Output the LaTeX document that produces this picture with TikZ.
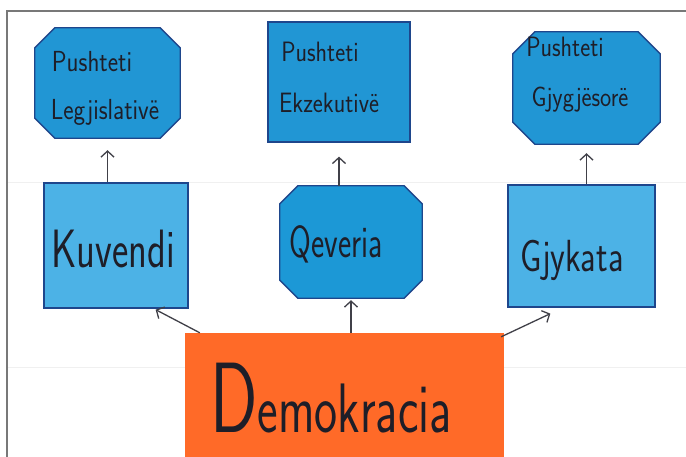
\documentclass[tikz,border=0pt]{standalone}
\usepackage{graphicx}
\usetikzlibrary{arrows.meta,backgrounds,calc}
\definecolor{topblue}{RGB}{33,150,212}
\definecolor{midblue}{RGB}{76,178,230}
\definecolor{qblue}{RGB}{28,152,214}
\definecolor{bdr}{RGB}{30,70,140}
\definecolor{orng}{RGB}{255,106,40}
\definecolor{framegray}{RGB}{120,120,120}
\definecolor{ink}{RGB}{30,30,40}
\definecolor{faint}{RGB}{240,240,240}
\newcommand\hwtext[3]{\scalebox{#1}[1]{\fontsize{#2}{#2}\selectfont #3}}
\begin{document}
\begin{tikzpicture}[x=1pt,y=-1pt,
  rbox/.style={rectangle, draw=bdr, line width=1.3pt, inner sep=0pt},
  obox/.style={rectangle, draw=none, inner sep=0pt},
  octo/.style={draw=bdr, line width=1.3pt},
  lbl/.style={anchor=base, inner sep=0pt, text=ink, font=\sffamily},
  arr/.style={draw=ink!85, line width=1.3pt, -{Straight Barb[length=6pt,width=13pt]}}]
\useasboundingbox (0,0) rectangle (686,457);

% frame
\draw[framegray, line width=2pt] (7,470) -- (7,11) -- (700,11);

% box nodes
\node[obox, minimum width=145pt, minimum height=110pt] (lg) at (107.5,83) {};
\node[rbox, fill=topblue, minimum width=142pt, minimum height=120pt] (ex) at (339,82) {};
\node[obox, minimum width=147pt, minimum height=112pt] (gy) at (586.5,88) {};
\node[rbox, fill=midblue, minimum width=144pt, minimum height=125pt] (kuv) at (116,245.5) {};
\node[obox, minimum width=142pt, minimum height=112pt] (qev) at (351,242) {};
\node[rbox, fill=midblue, minimum width=147pt, minimum height=122pt] (gjk) at (581.5,246) {};
\node[rectangle, fill=orng, inner sep=0pt, minimum width=319pt, minimum height=140pt] (dem) at (344.5,403) {};

\begin{scope}[on background layer]
  \fill[white] (0,0) rectangle (686,457);
  \draw[faint, line width=1pt] (8,183) -- (686,183);
  \draw[faint, line width=1pt] (8,367) -- (686,367);
  \filldraw[octo, fill=topblue]
    ($(lg.north west)+(20,0)$) -- ($(lg.north east)+(-20,0)$) -- ($(lg.north east)+(0,20)$) --
    ($(lg.south east)+(0,-20)$) -- ($(lg.south east)+(-20,0)$) -- ($(lg.south west)+(20,0)$) --
    ($(lg.south west)+(0,-20)$) -- ($(lg.north west)+(0,20)$) -- cycle;
  \filldraw[octo, fill=topblue]
    ($(gy.north west)+(22,0)$) -- ($(gy.north east)+(-22,0)$) -- ($(gy.north east)+(0,22)$) --
    ($(gy.south east)+(0,-22)$) -- ($(gy.south east)+(-22,0)$) -- ($(gy.south west)+(22,0)$) --
    ($(gy.south west)+(0,-22)$) -- ($(gy.north west)+(0,22)$) -- cycle;
  \filldraw[octo, fill=qblue]
    ($(qev.north west)+(18,0)$) -- ($(qev.north east)+(-18,0)$) -- ($(qev.north east)+(0,18)$) --
    ($(qev.south east)+(0,-18)$) -- ($(qev.south east)+(-18,0)$) -- ($(qev.south west)+(18,0)$) --
    ($(qev.south west)+(0,-18)$) -- ($(qev.north west)+(0,18)$) -- cycle;
\end{scope}

% labels
\node[lbl] (lg1) at (92,72) {\hwtext{0.85}{29}{Pushteti}};
\node[lbl] (lg2) at (105,120) {\hwtext{0.85}{29}{Legjislativë}};
\node[lbl] (ex1) at (320,62) {\hwtext{0.85}{28}{Pushteti}};
\node[lbl] (ex2) at (329,113) {\hwtext{0.85}{28}{Ekzekutivë}};
\node[lbl] (gy1) at (565,57) {\hwtext{0.85}{28}{Pushteti}};
\node[lbl] (gy2) at (580,107) {\hwtext{0.85}{28}{Gjygjësorë}};
\node[lbl] (kuvt) at (113,268) {\hwtext{0.72}{54}{Kuvendi}};
\node[lbl] (qevt) at (336,258) {\hwtext{0.7}{45}{Qeveria}};
\node[lbl] (gjkt) at (572,272) {\hwtext{0.76}{45}{Gjykata}};
\node[lbl] (demt) at (331,432) {\scalebox{0.7}[1]{\fontsize{100}{100}\selectfont D\fontsize{70}{70}\selectfont emokracia}};

% connectors
\draw[arr, shorten >=12pt] (kuv.north -| lg.south) -- (lg.south);
\draw[arr, shorten >=14pt] (qev.north -| ex.south) -- (ex.south);
\draw[arr, shorten >=9pt] (gjk.north -| gy.south) -- (gy.south);
\draw[arr] ([xshift=15pt]dem.north west) -- ([xshift=-33pt,yshift=-1pt]kuv.south east);
\draw[arr, shorten >=2pt] (dem.north -| qev.south) -- (qev.south);
\draw[arr] ([xshift=-3pt,yshift=-4pt]dem.north east) -- ([xshift=43pt,yshift=-6pt]gjk.south west);
\end{tikzpicture}
\end{document}
